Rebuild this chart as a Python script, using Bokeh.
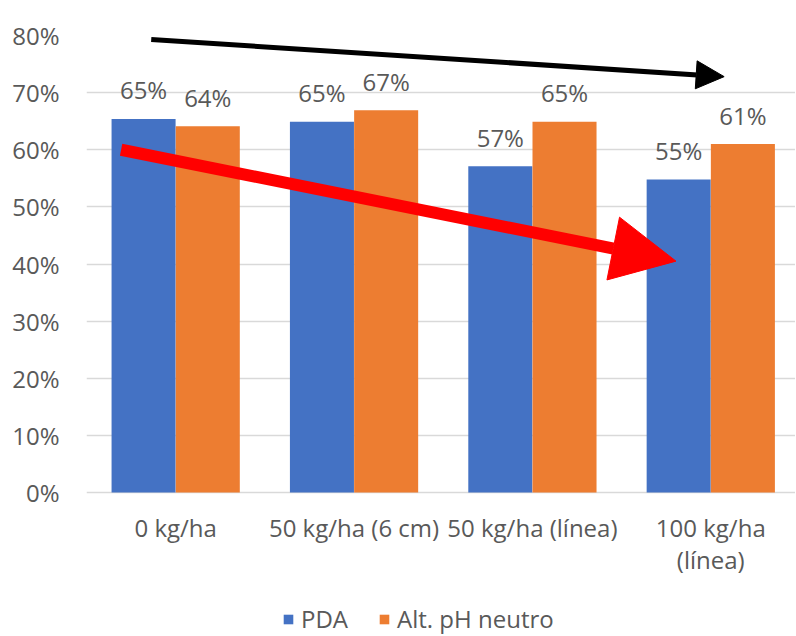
from bokeh.plotting import figure
from bokeh.models import (Range1d, FixedTicker, NumeralTickFormatter, ColumnDataSource,
                          LabelSet, Legend, LegendItem, Arrow, NormalHead)
from bokeh.core.properties import value
from bokeh.embed import file_html
from bokeh.resources import INLINE

# ---- data ----
categories = ["0 kg/ha", "50 kg/ha (6 cm)", "50 kg/ha (línea)", "100 kg/ha\n(línea)"]
pda = [0.654, 0.649, 0.571, 0.548]
alt_ph = [0.641, 0.669, 0.649, 0.610]
series_names = ["PDA", "Alt. pH neutro"]
y_ticks = [0.0, 0.1, 0.2, 0.3, 0.4, 0.5, 0.6, 0.7, 0.8]

# annotation arrows (data coords): x_start, y_start, x_end, y_end
black_arrow = [-0.137, 0.793, 3.075, 0.728]
red_arrow = [-0.306, 0.600, 2.805, 0.405]

BLUE = "#4472C4"
ORANGE = "#ED7D31"
TXT = "#595959"
GRID = "#D9D9D9"
FONT = "Open Sans"
FS = "24px"

bar_w = 0.359
off = 0.18
xs = list(range(len(categories)))

src_pda = ColumnDataSource(dict(x=[i - off for i in xs], y=pda,
                                lab=[f"{round(v*100)}%" for v in pda]))
src_alt = ColumnDataSource(dict(x=[i + off for i in xs], y=alt_ph,
                                lab=[f"{round(v*100)}%" for v in alt_ph]))
line1 = [c.split("\n")[0] for c in categories]
line2 = [c.split("\n")[1] if "\n" in c else "" for c in categories]
src_cat1 = ColumnDataSource(dict(x=xs, y=[0] * len(xs), lab=line1))
src_cat2 = ColumnDataSource(dict(x=xs, y=[0] * len(xs), lab=line2))

# frame extends to the bottom of the figure; the area below 0 holds the
# category labels and the legend
p = figure(width=795, height=635, output_backend="svg", toolbar_location=None,
           x_range=Range1d(-0.5, 3.475), y_range=Range1d(-0.2503, 0.8),
           x_axis_location=None,
           min_border_left=86, min_border_right=0, min_border_top=35, min_border_bottom=0)
p.outline_line_color = None
p.background_fill_color = "white"
p.border_fill_color = "white"

r1 = p.vbar(x="x", top="y", width=bar_w, source=src_pda, fill_color=BLUE, line_color=None)
r2 = p.vbar(x="x", top="y", width=bar_w, source=src_alt, fill_color=ORANGE, line_color=None)

for s in (src_pda, src_alt):
    p.add_layout(LabelSet(x="x", y="y", text="lab", source=s, y_offset=29,
                          text_align="center", text_baseline="middle",
                          text_font_size=value(FS), text_color=TXT, text_font=value(FONT)))

# category labels (each line centred on its category)
for s, dy in ((src_cat1, -18), (src_cat2, -50)):
    p.add_layout(LabelSet(x="x", y="y", text="lab", source=s, y_offset=dy,
                          text_align="center", text_baseline="top",
                          text_font_size=value(FS), text_color=TXT, text_font=value(FONT)))

# y axis
p.yaxis.ticker = FixedTicker(ticks=y_ticks)
p.yaxis.formatter = NumeralTickFormatter(format="0%")
p.yaxis.axis_line_color = None
p.yaxis.major_tick_line_color = None
p.yaxis.minor_tick_line_color = None
p.yaxis.major_tick_out = 0
p.yaxis.major_label_standoff = 27
p.yaxis.major_label_text_font_size = FS
p.yaxis.major_label_text_color = TXT
p.yaxis.major_label_text_font = FONT

p.xgrid.grid_line_color = None
p.ygrid.ticker = FixedTicker(ticks=y_ticks)
p.ygrid.grid_line_color = GRID
p.ygrid.grid_line_width = 1.5

# arrows
p.add_layout(Arrow(end=NormalHead(size=28, fill_color="black", line_color="black"),
                   x_start=black_arrow[0], y_start=black_arrow[1],
                   x_end=black_arrow[2], y_end=black_arrow[3],
                   line_color="black", line_width=5))
p.add_layout(Arrow(end=NormalHead(size=64, fill_color="#FF0000", line_color="#FF0000"),
                   x_start=red_arrow[0], y_start=red_arrow[1],
                   x_end=red_arrow[2], y_end=red_arrow[3],
                   line_color="#FF0000", line_width=12))

legend = Legend(items=[LegendItem(label=series_names[0], renderers=[r1]),
                       LegendItem(label=series_names[1], renderers=[r2])],
                orientation="horizontal", location=(196, 0), padding=0, margin=0,
                spacing=30, label_standoff=7, glyph_width=12, glyph_height=12,
                border_line_color=None, background_fill_alpha=0,
                label_text_font_size=FS, label_text_color=TXT, label_text_font=FONT)
p.add_layout(legend)

open("out.html", "w").write(file_html(p, INLINE))
